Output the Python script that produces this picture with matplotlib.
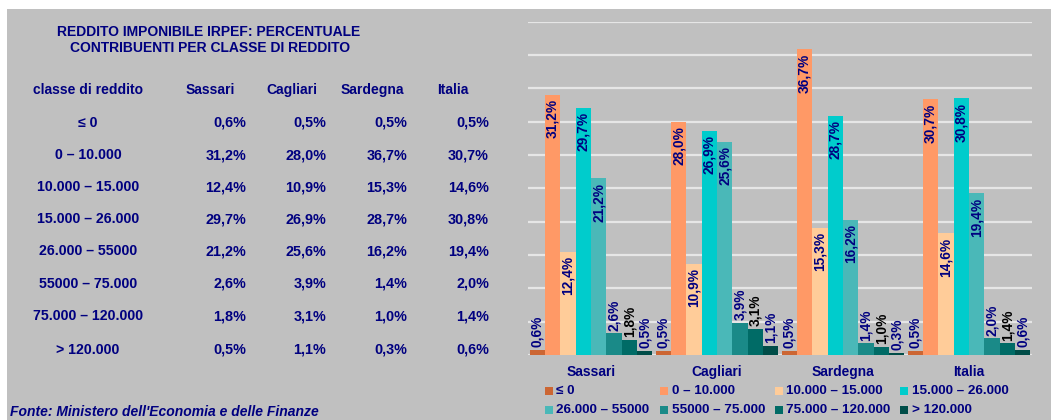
import numpy as np
import matplotlib.pyplot as plt
from matplotlib.patches import Rectangle

plt.rcParams['font.family'] = ['Liberation Sans', 'DejaVu Sans']

# Data
areas = ["Sassari", "Cagliari", "Sardegna", "Italia"]
classes = ["≤ 0", "0 – 10.000", "10.000 – 15.000", "15.000 – 26.000",
           "26.000 – 55000", "55000 – 75.000", "75.000 – 120.000", "> 120.000"]
sassari = [0.6, 31.2, 12.4, 29.7, 21.2, 2.6, 1.8, 0.5]
cagliari = [0.5, 28.0, 10.9, 26.9, 25.6, 3.9, 3.1, 1.1]
sardegna = [0.5, 36.7, 15.3, 28.7, 16.2, 1.4, 1.0, 0.3]
italia = [0.5, 30.7, 14.6, 30.8, 19.4, 2.0, 1.4, 0.6]

values = np.array([sassari, cagliari, sardegna, italia])  # areas x classes

colors = ["#CC6633", "#FF9966", "#FFCC99", "#00CCCC",
          "#4AB8B8", "#1A8A88", "#006B66", "#004D48"]
label_colors = ["#000080"] * 6 + ["#000000", "#000080"]
inside = [False, True, True, True, True, False, False, False]

W, H = 1051, 420
NAVY = "#000080"
GRAY = "#C0C0C0"

fig = plt.figure(figsize=(W / 100, H / 100), dpi=100, facecolor="white")

# gray panel
fig.add_artist(Rectangle((7 / W, 0), 1 - 7 / W, 1 - 9 / H, transform=fig.transFigure,
                         facecolor=GRAY, edgecolor="none", zorder=-10))


def ftext(x, y, s, **kw):
    fig.text(x / W, 1 - y / H, s, color=NAVY, fontweight="bold", va="center", **kw)


# ---- table on the left ----
ftext(209, 32, "REDDITO IMPONIBILE IRPEF: PERCENTUALE", fontsize=10, ha="center")
ftext(210, 48, "CONTRIBUENTI PER CLASSE DI REDDITO", fontsize=10, ha="center")

col_head_x = [210, 292, 372, 453]
col_val_x = [246, 326, 407, 489]
ftext(88, 90, "classe di reddito", fontsize=10, ha="center")
for a, xh in zip(areas, col_head_x):
    ftext(xh, 90, a, fontsize=10, ha="center")

row_y = [122.7, 155, 187, 219, 251, 283.5, 316.5, 349.5]
for i, (c, y) in enumerate(zip(classes, row_y)):
    ftext(88, y, c, fontsize=10.2, ha="center")
    for j, xv in enumerate(col_val_x):
        ftext(xv, y, f"{values[j, i]:.1f}%".replace(".", ","), fontsize=10.4, ha="right")

ftext(10, 412, "Fonte: Ministero dell'Economia e delle Finanze", fontsize=10,
      ha="left", fontstyle="italic")

# ---- bar chart ----
ax = fig.add_axes([528 / W, (H - 355) / H, 504 / W, (355 - 21.7) / H])
ax.patch.set_visible(False)
x = np.arange(len(areas))
bw = 0.122
for k in range(len(classes)):
    xs = x + (k - 3.5) * bw
    ax.bar(xs, values[:, k], width=bw, color=colors[k], zorder=3, linewidth=0)
    for xi, v in zip(xs, values[:, k]):
        lab = f"{v:.1f}%".replace(".", ",")
        if inside[k]:
            ax.annotate(lab, (xi, v), xytext=(0, -3), textcoords="offset points",
                        rotation=90, ha="center", va="top", fontsize=9.9,
                        fontweight="bold", color=label_colors[k], zorder=4)
        else:
            ax.annotate(lab, (xi, v), xytext=(0, 2), textcoords="offset points",
                        rotation=90, ha="center", va="bottom", fontsize=9.9,
                        fontweight="bold", color=label_colors[k], zorder=4)

ax.set_xlim(-0.5, 3.5)
ax.set_ylim(0, 40)
ax.set_yticks(np.arange(0, 41, 4))
ax.grid(axis="y", color="#E6E6E6", linewidth=1.6, zorder=0)
ax.tick_params(left=False, bottom=False, labelleft=False, labelbottom=False)
for s in ax.spines.values():
    s.set_visible(False)

# category labels under the groups
for xi, a in zip(x, areas):
    ax.annotate(a, (xi, 0), xytext=(0, -16.7), textcoords="offset pixels",
                ha="center", va="center", fontsize=9.9, fontweight="bold",
                color=NAVY, annotation_clip=False)

# legend, row-major like the original
leg_x = [545, 660, 775, 900]
leg_y = [390.5, 410]
for k, c in enumerate(classes):
    lx = leg_x[k % 4]
    ly = leg_y[k // 4]
    fig.add_artist(Rectangle((lx / W, 1 - (ly + 4) / H), 8 / W, 8 / H,
                             transform=fig.transFigure, facecolor=colors[k],
                             edgecolor="none"))
    ftext(lx + 11.5, ly, c, fontsize=9.7, ha="left")

fig.savefig("out.png", dpi=100, facecolor=fig.get_facecolor())
